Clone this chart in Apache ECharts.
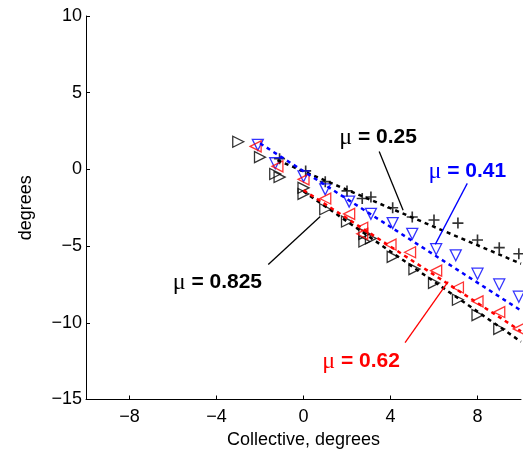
<!DOCTYPE html>
<html>
<head>
<meta charset="utf-8">
<script src="https://cdn.jsdelivr.net/npm/echarts@6/dist/echarts.min.js"></script>
<style>
html,body{margin:0;padding:0;background:#fff;}
#chart{width:523px;height:460px;}
</style>
</head>
<body>
<div id="chart"></div>
<script>
// ---- data ----
var xTicks = [-8, -4, 0, 4, 8];
var yTicks = [-15, -10, -5, 0, 5, 10];

// mu = 0.825 (black, right-pointing triangles)
var mu825X = [-3, -2, -1.3, -1.1, 0, 0, 1, 2, 2.8, 2.8, 3.1, 4.1, 5.1, 6, 7.1, 8, 9];
var mu825Y = [1.8, 0.8, -0.3, -0.5, -1.2, -1.6, -2.6, -3.4, -4.2, -4.7, -4.5, -5.7, -6.5, -7.4, -8.5, -9.5, -10.4];

// mu = 0.25 (black plus)
var mu25X = [-1.1, 0.1, 1, 2, 2.7, 3.1, 4.1, 5, 6, 7.1, 8, 9, 9.9];
var mu25Y = [0.7, -0.1, -0.8, -1.4, -1.9, -1.8, -2.5, -3.1, -3.3, -3.5, -4.6, -5.1, -5.5];

// mu = 0.41 (blue, down-pointing triangles)
var mu41X = [-2.1, -1.3, 0, 1, 2.1, 3.1, 4.1, 5, 6.1, 7, 8, 9, 9.9];
var mu41Y = [1.6, 0.4, -0.45, -1.3, -2.1, -2.9, -3.5, -4.2, -5.2, -5.6, -6.8, -7.5, -8.3];

// mu = 0.62 (red, left-pointing triangles)
var mu62X = [-2.2, -1.2, 0, 1, 2.1, 2.7, 2.7, 4, 4.9, 6.1, 7.1, 8, 9, 9.9];
var mu62Y = [1.5, 0.2, -0.65, -1.9, -2.9, -3.8, -4.2, -4.9, -5.4, -6.6, -7.7, -8.6, -9.3, -10.4];

// fitted dashed lines (end points)
var fit25X = [-1.2, 10],  fit25Y = [0.6, -6.15];
var fit41X = [-2, 10],    fit41Y = [1.7, -9.2];
var fit62X = [0, 10],     fit62Y = [-1.35, -10.55];
var fit825X = [0, 10],    fit825Y = [-1.43, -11.23];

// annotations: label text, label position, arrow start, arrow end
var annLabels = ['0.25', '0.41', '0.62', '0.825'];
var annColors = ['#000000', '#0000ff', '#ff0000', '#000000'];
var annTextPos = [[3.43, 2.09], [7.53, -0.13], [2.65, -12.52], [-3.96, -7.37]];
var annArrowFrom = [[3.48, 1.17], [7.53, -0.91], [4.67, -11.29], [-1.62, -6.2]];
var annArrowTo = [[4.58, -2.67], [6.06, -4.89], [6.65, -7.31], [0.77, -3.07]];

function zip(xs, ys) { return xs.map(function (x, i) { return [x, ys[i]]; }); }
function fmt(v) { return v < 0 ? '\u2212' + Math.abs(v) : String(v); }

var FONT = 'Liberation Sans, Arial, Helvetica, sans-serif';

function markerSeries(name, xs, ys, color, symbol, rot, size) {
  return {
    name: name, type: 'scatter', data: zip(xs, ys), symbol: symbol, symbolRotate: rot,
    symbolSize: size, z: 3,
    itemStyle: { color: 'rgba(0,0,0,0)', borderColor: color, borderWidth: 1.3 }
  };
}
function fitSeries(name, xs, ys, color) {
  return {
    name: name, type: 'line', data: zip(xs, ys), showSymbol: false, symbol: 'none', z: 4,
    lineStyle: { color: color, width: 2.5, type: [4, 4] }
  };
}

var plusPath = 'path://M4.25,0H5.75V10H4.25Z M0,4.25H10V5.75H0Z';

var annotSeries = {
  name: 'annot', type: 'line', data: [], z: 6, silent: true,
  markLine: {
    silent: true, animation: false, symbol: ['none', 'arrow'], symbolSize: [0, 9],
    label: { show: false },
    data: annLabels.map(function (l, i) {
      return [
        { coord: annArrowFrom[i], lineStyle: { color: annColors[i], width: 1.3, type: 'solid' } },
        { coord: annArrowTo[i] }
      ];
    })
  },
  markPoint: {
    silent: true, animation: false, symbol: 'circle', symbolSize: 0,
    data: annLabels.map(function (l, i) {
      return {
        coord: annTextPos[i],
        label: {
          show: true, position: 'inside',
          formatter: '{m|\u03bc}{b| = ' + l + '}',
          rich: {
            m: { fontFamily: 'Liberation Serif, DejaVu Serif, serif', fontSize: 24, color: annColors[i] },
            b: { fontFamily: FONT, fontWeight: 'bold', fontSize: 21, color: annColors[i] }
          }
        }
      };
    })
  }
};

var plusSeries = {
  name: 'mu25', type: 'scatter', data: zip(mu25X, mu25Y), symbol: plusPath,
  symbolSize: 11, z: 3,
  itemStyle: { color: '#000000', borderWidth: 0 }
};

var chart = echarts.init(document.getElementById('chart'), null, { renderer: 'canvas' });
chart.setOption({
  animation: false,
  backgroundColor: '#ffffff',
  grid: { left: 86, right: 2, top: 16, bottom: 60.5, containLabel: false },
  xAxis: {
    type: 'value', min: -10, max: 10, interval: 2,
    name: 'Collective, degrees', nameLocation: 'middle', nameGap: 25,
    nameTextStyle: { fontFamily: FONT, fontSize: 18, color: '#000' },
    splitLine: { show: false },
    axisLine: { show: true, onZero: false, lineStyle: { color: '#000', width: 1 } },
    axisTick: { show: true, inside: true, length: 4, customValues: xTicks, lineStyle: { color: '#000' } },
    axisLabel: { customValues: xTicks, formatter: fmt, fontFamily: FONT, fontSize: 18, color: '#000', margin: 9 }
  },
  yAxis: {
    type: 'value', min: -15, max: 10, interval: 5,
    name: 'degrees', nameLocation: 'middle', nameGap: 51, nameRotate: 90,
    nameTextStyle: { fontFamily: FONT, fontSize: 18, color: '#000' },
    splitLine: { show: false },
    axisLine: { show: true, onZero: false, lineStyle: { color: '#000', width: 1 } },
    axisTick: { show: true, inside: true, length: 4, customValues: yTicks, lineStyle: { color: '#000' } },
    axisLabel: { customValues: yTicks, formatter: fmt, fontFamily: FONT, fontSize: 18, color: '#000', margin: 4 }
  },
  series: [
    markerSeries('mu825', mu825X, mu825Y, '#000000', 'triangle', -90, 11),
    plusSeries,
    markerSeries('mu41', mu41X, mu41Y, '#0000ff', 'triangle', 180, 11),
    markerSeries('mu62', mu62X, mu62Y, '#ff0000', 'triangle', 90, 11),
    fitSeries('fit25', fit25X, fit25Y, '#000000'),
    fitSeries('fit825', fit825X, fit825Y, '#000000'),
    fitSeries('fit41', fit41X, fit41Y, '#0000ff'),
    fitSeries('fit62', fit62X, fit62Y, '#ff0000'),
    annotSeries
  ]
});
</script>
</body>
</html>
